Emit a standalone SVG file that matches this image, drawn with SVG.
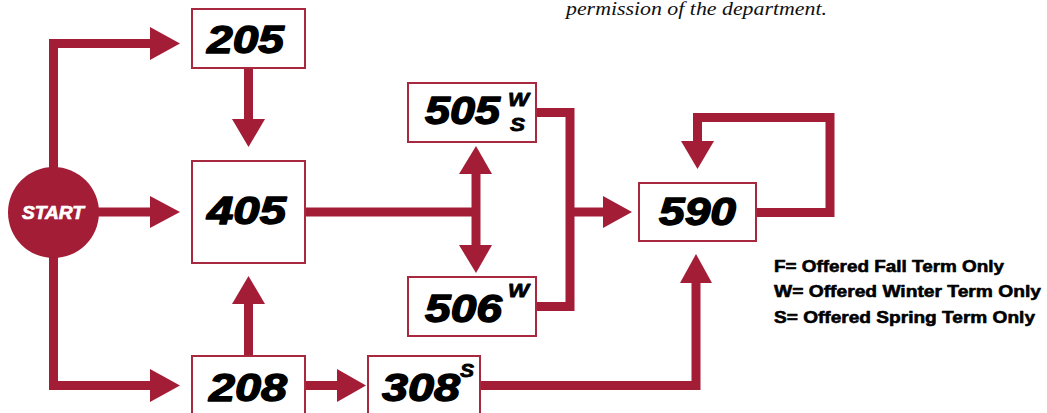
<svg xmlns="http://www.w3.org/2000/svg" width="1047" height="413" viewBox="0 0 1047 413">
<style>
.ln{fill:none;stroke:#A31D37;stroke-width:9;stroke-linejoin:miter;stroke-linecap:butt}
.ah{fill:#A31D37}
.box{fill:#fff;stroke:#A8283F;stroke-width:2}
.num{font-family:"Liberation Sans",Arial,sans-serif;font-weight:bold;font-style:italic;font-size:39px;fill:#000;stroke:#000;stroke-width:1.4;stroke-linejoin:round}
.sup{font-family:"Liberation Sans",Arial,sans-serif;font-weight:bold;font-style:italic;font-size:19px;fill:#000;stroke:#000;stroke-width:0.8;stroke-linejoin:round}
.leg{font-family:"Liberation Sans",Arial,sans-serif;font-weight:bold;font-size:17px;fill:#000;stroke:#000;stroke-width:0.6;stroke-linejoin:round}
.note{font-family:"Liberation Serif","Times New Roman",serif;font-style:italic;font-size:19px;fill:#111}
</style>
<rect width="1047" height="413" fill="#fff"/>
<text class="note" x="566" y="15" textLength="261" lengthAdjust="spacingAndGlyphs">permission of the department.</text>
<g id="connectors">
<path class="ln" d="M53.5,212 V43.5 H151"/>
<polygon class="ah" points="150,27 180,43.5 150,60"/>
<path class="ln" d="M98,212 H151"/>
<polygon class="ah" points="150,196 180,212 150,228"/>
<path class="ln" d="M53.5,212 V385.5 H151"/>
<polygon class="ah" points="150,369 180,385.5 150,402"/>
<path class="ln" d="M248.5,68 V120"/>
<polygon class="ah" points="232,119 248.5,147 265,119"/>
<path class="ln" d="M248.5,356 V303"/>
<polygon class="ah" points="232,304 248.5,276 265,304"/>
<path class="ln" d="M305,385.5 H338"/>
<polygon class="ah" points="337,369 366,385.5 337,402"/>
<path class="ln" d="M480,385.5 H696 V282"/>
<polygon class="ah" points="680,283 696,254 712,283"/>
<path class="ln" d="M305,212 H480"/>
<path class="ln" d="M476,173 V246"/>
<polygon class="ah" points="459,174 476,146 492,174"/>
<polygon class="ah" points="459,245 476,273 492,245"/>
<path class="ln" d="M536,112.5 H570 V306.5 H536"/>
<path class="ln" d="M570,212 H604"/>
<polygon class="ah" points="603,196 632,212 603,228"/>
<path class="ln" d="M756,212.5 H830 V117.5 H697.5 V142"/>
<polygon class="ah" points="681,141 697.5,169 714,141"/>
</g>
<g id="node-start">
<circle cx="53.5" cy="212.5" r="45.5" fill="#A31D37"/>
<text x="53" y="218.5" text-anchor="middle" font-family="'Liberation Sans',Arial,sans-serif" font-weight="bold" font-style="italic" font-size="18.5" fill="#fff" stroke="#fff" stroke-width="0.7" textLength="62" lengthAdjust="spacingAndGlyphs">START</text>
</g>
<g id="node-205">
<rect class="box" x="192" y="9" width="113" height="59"/>
<text class="num" x="207" y="53" textLength="77" lengthAdjust="spacingAndGlyphs">205</text>
</g>
<g id="node-405">
<rect class="box" x="192" y="161" width="113" height="102"/>
<text class="num" x="207" y="224" textLength="79" lengthAdjust="spacingAndGlyphs">405</text>
</g>
<g id="node-208">
<rect class="box" x="192" y="356" width="113" height="70"/>
<text class="num" x="209" y="401" textLength="78" lengthAdjust="spacingAndGlyphs">208</text>
</g>
<g id="node-308">
<rect class="box" x="368" y="356" width="112" height="70"/>
<text class="num" x="382" y="401" textLength="78" lengthAdjust="spacingAndGlyphs">308</text>
<text class="sup" x="460" y="377" textLength="14" lengthAdjust="spacingAndGlyphs">S</text>
</g>
<g id="node-505">
<rect class="box" x="408" y="83" width="128" height="59"/>
<text class="num" x="425" y="124" textLength="75" lengthAdjust="spacingAndGlyphs">505</text>
<text class="sup" x="508" y="106" textLength="21" lengthAdjust="spacingAndGlyphs">W</text>
<text class="sup" x="510" y="131" textLength="15" lengthAdjust="spacingAndGlyphs">S</text>
</g>
<g id="node-506">
<rect class="box" x="408" y="277" width="128" height="59"/>
<text class="num" x="425" y="322" textLength="77" lengthAdjust="spacingAndGlyphs">506</text>
<text class="sup" x="508" y="297" textLength="21" lengthAdjust="spacingAndGlyphs">W</text>
</g>
<g id="node-590">
<rect class="box" x="639" y="183" width="117" height="58"/>
<text class="num" x="659" y="225" textLength="77" lengthAdjust="spacingAndGlyphs">590</text>
</g>
<g id="legend">
<text class="leg" x="774" y="272" textLength="230" lengthAdjust="spacingAndGlyphs">F= Offered Fall Term Only</text>
<text class="leg" x="774" y="297" textLength="267" lengthAdjust="spacingAndGlyphs">W= Offered Winter Term Only</text>
<text class="leg" x="774" y="323" textLength="261" lengthAdjust="spacingAndGlyphs">S= Offered Spring Term Only</text>
</g>
</svg>
